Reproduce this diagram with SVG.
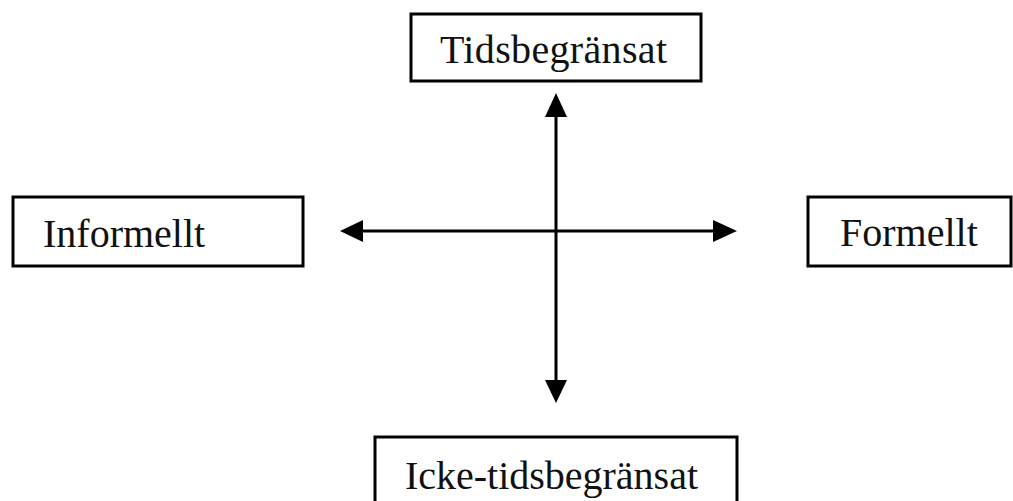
<svg xmlns="http://www.w3.org/2000/svg" width="1013" height="501" viewBox="0 0 1013 501">
  <style>
    .box { fill: #ffffff; stroke: #000000; stroke-width: 3; }
    .lbl { font-family: "Liberation Serif", "Times New Roman", serif; font-size: 40px; fill: #111111; }
    .ax { stroke: #000000; stroke-width: 3; fill: none; }
    .head { fill: #000000; }
  </style>
  <defs>
    <clipPath id="clipTop"><rect x="411" y="14" width="290" height="59"/></clipPath>
  </defs>
  <rect width="1013" height="501" fill="#ffffff"/>
  <g id="node-top">
    <rect class="box" x="411" y="14" width="290" height="67"/>
    <text class="lbl" x="440" y="63" textLength="227" clip-path="url(#clipTop)">Tidsbegränsat</text>
  </g>
  <g id="node-left">
    <rect class="box" x="13" y="197" width="290" height="69"/>
    <text class="lbl" x="43" y="247">Informellt</text>
  </g>
  <g id="node-right">
    <rect class="box" x="808" y="197" width="203" height="69"/>
    <text class="lbl" x="840" y="246">Formellt</text>
  </g>
  <g id="node-bottom">
    <rect class="box" x="375" y="437" width="362" height="80"/>
    <text class="lbl" x="405" y="489" textLength="293">Icke-tidsbegränsat</text>
  </g>
  <g id="connectors">
    <line class="ax" x1="556" y1="115" x2="556" y2="382"/>
    <polygon class="head" points="556,93 545,117 567,117"/>
    <polygon class="head" points="556,403 545,380 567,380"/>
    <line class="ax" x1="361" y1="231" x2="715" y2="231"/>
    <polygon class="head" points="340,231 363,220 363,242"/>
    <polygon class="head" points="737,231 713,220 713,242"/>
  </g>
</svg>
